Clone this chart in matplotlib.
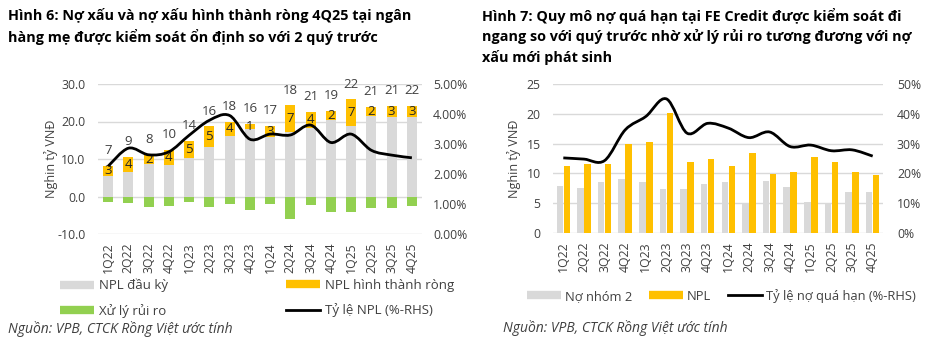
import matplotlib
matplotlib.use("Agg")
import numpy as np
import matplotlib.pyplot as plt
from matplotlib.path import Path
from matplotlib.patches import PathPatch
from matplotlib.lines import Line2D
from matplotlib.ticker import FuncFormatter

# ---- data ----
quarters = ['1Q22', '2Q22', '3Q22', '4Q22', '1Q23', '2Q23', '3Q23', '4Q23',
            '1Q24', '2Q24', '3Q24', '4Q24', '1Q25', '2Q25', '3Q25', '4Q25']

# Hinh 6 - parent bank
npl_start = [5.4, 6.6, 8.6, 8.4, 10.2, 13.3, 16.2, 18.0,
             16.0, 17.1, 18.4, 20.5, 18.7, 21.4, 21.2, 21.2]
npl_net = [2.8, 4.0, 2.4, 4.0, 4.6, 5.4, 3.8, 1.3,
           2.9, 7.2, 4.2, 2.4, 7.2, 2.4, 2.9, 2.9]
write_off = [-1.5, -1.8, -2.8, -2.4, -1.5, -2.9, -2.1, -3.6,
             -2.0, -6.0, -2.2, -4.2, -4.0, -3.0, -3.0, -2.5]
npl_end = [7, 9, 8, 10, 14, 16, 18, 16, 17, 18, 21, 19, 22, 21, 21, 22]
npl_ratio = [2.26, 2.86, 2.64, 2.74, 3.29, 3.79, 3.95, 3.16,
             3.33, 3.30, 3.63, 3.05, 3.33, 2.79, 2.63, 2.54]  # %

# Hinh 7 - FE Credit
group2 = [7.9, 7.5, 8.5, 9.0, 8.5, 7.3, 7.4, 8.3,
          8.5, 4.8, 8.8, 7.8, 5.2, 5.0, 6.9, 6.9]
fe_npl = [11.3, 11.6, 11.6, 15.0, 15.3, 20.1, 11.9, 12.4,
          11.2, 13.4, 9.9, 10.2, 12.8, 11.9, 10.2, 9.8]
overdue_ratio = [25.2, 24.8, 24.3, 34.6, 39.1, 45.0, 33.5, 36.8,
                 35.2, 32.0, 33.9, 29.0, 29.5, 27.6, 27.9, 25.8]  # %

GRAY = '#d9d9d9'
ORANGE = '#ffc000'
GREEN = '#92d050'
TXT = '#404040'
FONT = ['Open Sans', 'DejaVu Sans']

plt.rcParams['font.family'] = FONT
plt.rcParams['font.size'] = 8.5


def smooth_line(ax, x, y, **kw):
    # Excel-like smoothed line: Catmull-Rom segments drawn as cubic Beziers
    x = np.asarray(x, float)
    y = np.asarray(y, float)
    n = len(x)
    verts = [(x[0], y[0])]
    codes = [Path.MOVETO]
    for i in range(n - 1):
        p0 = np.array([x[max(i - 1, 0)], y[max(i - 1, 0)]])
        p1 = np.array([x[i], y[i]])
        p2 = np.array([x[i + 1], y[i + 1]])
        p3 = np.array([x[min(i + 2, n - 1)], y[min(i + 2, n - 1)]])
        c1 = p1 + (p2 - p0) / 6.0
        c2 = p2 - (p3 - p1) / 6.0
        verts += [tuple(c1), tuple(c2), tuple(p2)]
        codes += [Path.CURVE4] * 3
    ax.add_patch(PathPatch(Path(verts, codes), fill=False, **kw))


def style_axes(ax):
    for s in ax.spines.values():
        s.set_visible(False)
    ax.tick_params(length=0, colors=TXT, labelsize=8.8)


fig = plt.figure(figsize=(9.52, 3.61), dpi=100)
W, H = 952.0, 361.0
x = np.arange(len(quarters))

# ---------------- left chart ----------------
ax1 = fig.add_axes([98 / W, 1 - 234 / H, 324 / W, 150 / H])
ax1.bar(x, npl_start, width=0.5, color=GRAY, zorder=2)
ax1.bar(x, npl_net, width=0.5, bottom=npl_start, color=ORANGE, zorder=2)
ax1.bar(x, write_off, width=0.5, color=GREEN, zorder=2)
for i in range(len(quarters)):
    ax1.text(x[i], npl_start[i] + npl_net[i] / 2, f"{npl_net[i]:.0f}",
             ha='center', va='center', fontsize=9.5, color='#262626', zorder=4)
    ax1.annotate(f"{npl_end[i]}", (x[i], npl_start[i] + npl_net[i]),
                 xytext=(0, 11), textcoords='offset points',
                 ha='center', va='center', fontsize=9.5, color=TXT, zorder=4)
ax1.set_xlim(-0.5, len(quarters) - 0.5)
ax1.set_ylim(-10, 30)
ax1.set_yticks([-10, 0, 10, 20, 30])
ax1.yaxis.set_major_formatter(FuncFormatter(lambda v, p: f"{v:.1f}"))
ax1.set_xticks(x)
ax1.set_xticklabels(quarters, rotation=90)
ax1.grid(axis='y', color=GRAY, lw=1, zorder=0)
ax1.set_axisbelow(True)
style_axes(ax1)
ax1.tick_params(axis='y', pad=9)
ax1.tick_params(axis='x', pad=6)

ax1r = ax1.twinx()
smooth_line(ax1r, x, np.array(npl_ratio) / 100, color='black', lw=2, zorder=5)
ax1r.set_ylim(0, 0.05)
ax1r.set_yticks([0, 0.01, 0.02, 0.03, 0.04, 0.05])
ax1r.yaxis.set_major_formatter(FuncFormatter(lambda v, p: f"{v * 100:.2f}%"))
style_axes(ax1r)
ax1r.tick_params(axis='y', pad=8)

fig.text(51 / W, 1 - 159 / H, "Nghin tỷ VNĐ", rotation=90, ha='center', va='center',
         fontsize=9, color=TXT)

fig.text(8 / W, 1 - 8 / H,
         "Hình 6: Nợ xấu và nợ xấu hình thành ròng 4Q25 tại ngân\n"
         "hàng mẹ được kiểm soát ổn định so với 2 quý trước",
         ha='left', va='top', fontsize=10.4, fontweight='bold', linespacing=1.45)

h_gray = Line2D([], [], color=GRAY, lw=6, solid_capstyle='butt')
h_orange = Line2D([], [], color=ORANGE, lw=6, solid_capstyle='butt')
h_green = Line2D([], [], color=GREEN, lw=6, solid_capstyle='butt')
h_line = Line2D([], [], color='black', lw=2)

leg_kw = dict(loc='upper left', frameon=False, fontsize=9.5, borderpad=0,
              borderaxespad=0, handlelength=2.6, handletextpad=0.35,
              labelspacing=0.85, labelcolor=TXT)
fig.legend([h_gray, h_green], ["NPL đầu kỳ", "Xử lý rủi ro"],
           bbox_to_anchor=(60 / W, 1 - 279 / H), **leg_kw)
fig.legend([h_orange, h_line], ["NPL hình thành ròng", "Tỷ lệ NPL (%-RHS)"],
           bbox_to_anchor=(286 / W, 1 - 279 / H), **leg_kw)
fig.text(8 / W, 1 - 329 / H, "Nguồn: VPB, CTCK Rồng Việt ước tính",
         ha='left', va='center', fontsize=10, style='italic', color=TXT)

# ---------------- right chart ----------------
ax2 = fig.add_axes([553 / W, 1 - 233 / H, 330 / W, 149 / H])
ax2.bar(x - 0.17, group2, width=0.32, color=GRAY, zorder=2)
ax2.bar(x + 0.17, fe_npl, width=0.32, color=ORANGE, zorder=2)
ax2.set_xlim(-0.5, len(quarters) - 0.5)
ax2.set_ylim(0, 25)
ax2.set_yticks([0, 5, 10, 15, 20, 25])
ax2.set_xticks(x)
ax2.set_xticklabels(quarters, rotation=90)
ax2.grid(axis='y', color=GRAY, lw=1, zorder=0)
ax2.set_axisbelow(True)
style_axes(ax2)
ax2.tick_params(axis='y', pad=9)
ax2.tick_params(axis='x', pad=6)

ax2r = ax2.twinx()
smooth_line(ax2r, x, np.array(overdue_ratio) / 100, color='black', lw=2, zorder=5)
ax2r.set_ylim(0, 0.5)
ax2r.set_yticks([0, 0.1, 0.2, 0.3, 0.4, 0.5])
ax2r.yaxis.set_major_formatter(FuncFormatter(lambda v, p: f"{v * 100:.0f}%"))
style_axes(ax2r)
ax2r.tick_params(axis='y', pad=10)

fig.text(514 / W, 1 - 159 / H, "Nghin tỷ VNĐ", rotation=90, ha='center', va='center',
         fontsize=9, color=TXT)

fig.text(482 / W, 1 - 8 / H,
         "Hình 7: Quy mô nợ quá hạn tại FE Credit được kiểm soát đi\n"
         "ngang so với quý trước nhờ xử lý rủi ro tương đương với nợ\n"
         "xấu mới phát sinh",
         ha='left', va='top', fontsize=10.4, fontweight='bold', linespacing=1.45)

fig.legend([h_gray, h_orange, h_line], ["Nợ nhóm 2", "NPL", "Tỷ lệ nợ quá hạn (%-RHS)"],
           loc='upper left', ncol=3, frameon=False, fontsize=9.3, borderpad=0,
           borderaxespad=0, handlelength=2.6, handletextpad=0.35,
           columnspacing=1.3, labelcolor=TXT,
           bbox_to_anchor=(527 / W, 1 - 289 / H))
fig.text(503 / W, 1 - 328 / H, "Nguồn: VPB, CTCK Rồng Việt ước tính",
         ha='left', va='center', fontsize=10, style='italic', color=TXT)

fig.savefig("out.png", dpi=100, facecolor='white')
